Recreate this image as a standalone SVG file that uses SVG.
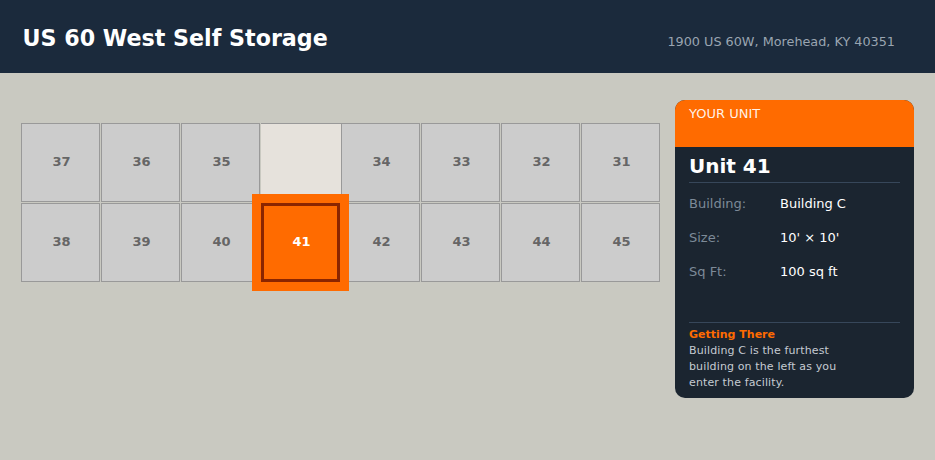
<svg xmlns="http://www.w3.org/2000/svg" width="935" height="460" viewBox="0 0 935 460">
<style>
.cell{fill:#cccccc;stroke:#999999;stroke-width:1}
.num{font-family:"DejaVu Sans",sans-serif;font-size:13px;font-weight:bold;fill:#666666;text-anchor:middle}
.lbl{font-family:"DejaVu Sans",sans-serif;font-size:13px;fill:#7d8a98}
.val{font-family:"DejaVu Sans",sans-serif;font-size:13px;fill:#ffffff}
.body{font-family:"DejaVu Sans",sans-serif;font-size:11px;fill:#c5cbd2;letter-spacing:0.13px}
</style>
<rect x="0" y="0" width="935" height="460" fill="#c9c9c1"/>
<g id="header">
<rect x="0" y="0" width="935" height="73" fill="#1b2a3c"/>
<text x="22.5" y="46" font-family="DejaVu Sans,sans-serif" font-size="22.2" font-weight="bold" fill="#ffffff">US 60 West Self Storage</text>
<text x="895" y="46" font-family="DejaVu Sans,sans-serif" font-size="12.8" fill="#9aa5b1" text-anchor="end">1900 US 60W, Morehead, KY 40351</text>
</g>
<g id="grid">
<g id="unit-37"><rect class="cell" x="21.5" y="123.5" width="78" height="78"/><text class="num" x="61.5" y="166">37</text></g>
<g id="unit-36"><rect class="cell" x="101.5" y="123.5" width="78" height="78"/><text class="num" x="141.5" y="166">36</text></g>
<g id="unit-35"><rect class="cell" x="181.5" y="123.5" width="78" height="78"/><text class="num" x="221.5" y="166">35</text></g>
<g id="aisle"><rect x="261" y="123" width="80" height="80" fill="#e6e2dc"/><line x1="261" y1="123.5" x2="341" y2="123.5" stroke="#999999" stroke-width="1"/></g>
<g id="unit-34"><rect class="cell" x="341.5" y="123.5" width="78" height="78"/><text class="num" x="381.5" y="166">34</text></g>
<g id="unit-33"><rect class="cell" x="421.5" y="123.5" width="78" height="78"/><text class="num" x="461.5" y="166">33</text></g>
<g id="unit-32"><rect class="cell" x="501.5" y="123.5" width="78" height="78"/><text class="num" x="541.5" y="166">32</text></g>
<g id="unit-31"><rect class="cell" x="581.5" y="123.5" width="78" height="78"/><text class="num" x="621.5" y="166">31</text></g>
<g id="unit-38"><rect class="cell" x="21.5" y="203.5" width="78" height="78"/><text class="num" x="61.5" y="246">38</text></g>
<g id="unit-39"><rect class="cell" x="101.5" y="203.5" width="78" height="78"/><text class="num" x="141.5" y="246">39</text></g>
<g id="unit-40"><rect class="cell" x="181.5" y="203.5" width="78" height="78"/><text class="num" x="221.5" y="246">40</text></g>
<g id="unit-42"><rect class="cell" x="341.5" y="203.5" width="78" height="78"/><text class="num" x="381.5" y="246">42</text></g>
<g id="unit-43"><rect class="cell" x="421.5" y="203.5" width="78" height="78"/><text class="num" x="461.5" y="246">43</text></g>
<g id="unit-44"><rect class="cell" x="501.5" y="203.5" width="78" height="78"/><text class="num" x="541.5" y="246">44</text></g>
<g id="unit-45"><rect class="cell" x="581.5" y="203.5" width="78" height="78"/><text class="num" x="621.5" y="246">45</text></g>
<g id="unit-41">
<rect x="252" y="194" width="97" height="97" fill="#ff6b00"/>
<rect x="262.5" y="204.5" width="76" height="76" fill="#ff6b00" stroke="#8b2500" stroke-width="3"/>
<text class="num" x="301.5" y="246" style="fill:#ffffff">41</text>
</g>
</g>
<g id="panel">
<rect x="675" y="100" width="239" height="298" rx="10" fill="#1b2530"/>
<path d="M675 147 V110 A10 10 0 0 1 685 100 H904 A10 10 0 0 1 914 110 V147 Z" fill="#ff6b00"/>
<text x="689" y="118" font-family="DejaVu Sans,sans-serif" font-size="13" fill="#ffffff" fill-opacity="0.92">YOUR UNIT</text>
<text x="689" y="173" font-family="DejaVu Sans,sans-serif" font-size="20" font-weight="bold" fill="#ffffff">Unit 41</text>
<line x1="689" y1="182.5" x2="900" y2="182.5" stroke="#37475a" stroke-width="1"/>
<text class="lbl" x="689" y="208">Building:</text><text class="val" x="780" y="208">Building C</text>
<text class="lbl" x="689" y="242">Size:</text><text class="val" x="780" y="242">10' × 10'</text>
<text class="lbl" x="689" y="276">Sq Ft:</text><text class="val" x="780" y="276">100 sq ft</text>
<line x1="689" y1="322.5" x2="900" y2="322.5" stroke="#37475a" stroke-width="1"/>
<text x="689" y="337.5" font-family="DejaVu Sans,sans-serif" font-size="11" font-weight="bold" fill="#ff6b00">Getting There</text>
<text class="body" x="689" y="353.5">Building C is the furthest</text>
<text class="body" x="689" y="369.5">building on the left as you</text>
<text class="body" x="689" y="385.5">enter the facility.</text>
</g>
</svg>
